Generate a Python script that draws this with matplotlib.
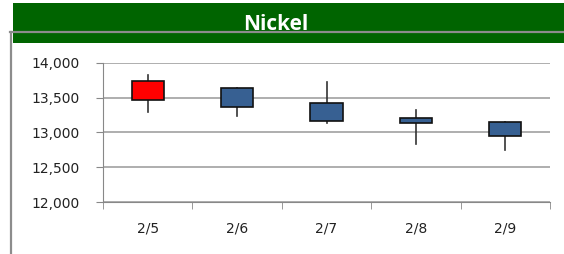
import matplotlib
matplotlib.use("Agg")
import matplotlib.pyplot as plt
from matplotlib.patches import Rectangle
from matplotlib.lines import Line2D

dates = ["2/5", "2/6", "2/7", "2/8", "2/9"]
opens = [13464, 13641, 13416, 13205, 13152]
closes = [13737, 13368, 13162, 13129, 12951]
highs = [13823, 13641, 13723, 13320, 13152]
lows = [13292, 13234, 13138, 12832, 12745]
yticks = [12000, 12500, 13000, 13500, 14000]

W, H = 564, 254
fig = plt.figure(figsize=(W / 100, H / 100), dpi=100)
fig.patch.set_facecolor("white")

def fx(px):
    return px / W

def fy(py):
    return 1 - py / H

# green banner
fig.patches.append(Rectangle((fx(13), fy(43)), fx(W - 13), (43 - 3) / H,
                             transform=fig.transFigure, facecolor="#006400",
                             edgecolor="none", zorder=0))
fig.text(fx(276), fy(30.5), "Nickel", color="white", fontsize=15, fontweight="bold",
         family="Open Sans", ha="center", va="baseline")
# frame lines
fig.lines.append(Line2D([fx(10), 1], [fy(32), fy(32)], transform=fig.transFigure,
                        color="#8c8c8c", lw=1.6, zorder=2))
fig.lines.append(Line2D([fx(11), fx(11)], [fy(32), 0], transform=fig.transFigure,
                        color="#8c8c8c", lw=1.6, zorder=2))

ax = fig.add_axes([fx(103), fy(202), fx(550 - 103), (202 - 62.7) / H])
ax.set_facecolor("white")
n = len(dates)
ax.set_xlim(0, n)
ax.set_ylim(12000, 14000)
ax.set_yticks(yticks)
ax.set_yticklabels([f"{v:,}" for v in yticks])
ax.yaxis.grid(True, color="#999999", lw=1.1)
ax.set_axisbelow(True)
ax.set_xticks([i + 0.5 for i in range(n)])
ax.set_xticklabels(dates)
ax.set_xticks(range(n + 1), minor=True)
ax.tick_params(axis="x", which="major", length=0, pad=14, labelsize=10)
ax.tick_params(axis="x", which="minor", length=5, color="#888888", direction="out")
ax.tick_params(axis="y", length=5, color="#888888", labelsize=10, pad=12)
for lbl in ax.get_yticklabels() + ax.get_xticklabels():
    lbl.set_color("#222222")
for s in ["top", "right"]:
    ax.spines[s].set_visible(False)
ax.spines["left"].set_color("#888888")
ax.spines["bottom"].set_color("#888888")

bw = 0.36
for i in range(n):
    x = i + 0.5
    o, c, h, l = opens[i], closes[i], highs[i], lows[i]
    color = "#ff0000" if c >= o else "#376092"
    ax.plot([x, x], [l, h], color="#333333", lw=1.2, zorder=2)
    ax.add_patch(Rectangle((x - bw / 2, min(o, c)), bw, abs(c - o),
                           facecolor=color, edgecolor="#111111", lw=1.2, zorder=3))

fig.savefig("out.png", dpi=100)
